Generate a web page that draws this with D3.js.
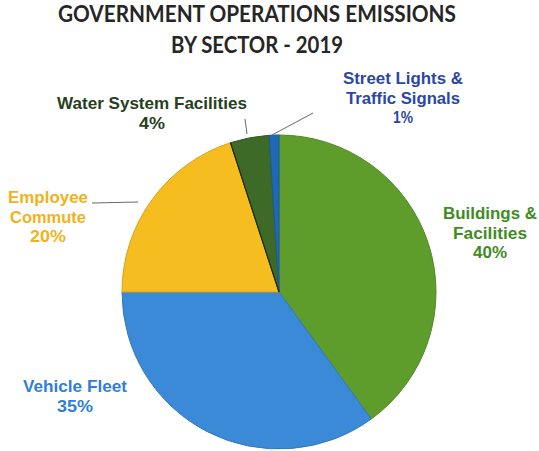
<!DOCTYPE html>
<html>
<head>
<meta charset="utf-8">
<script src="https://cdn.jsdelivr.net/npm/d3@7/dist/d3.min.js"></script>
<style>
  html, body { margin: 0; padding: 0; background: #fff; }
  svg { display: block; }
</style>
</head>
<body>
<div id="chart"></div>
<script>
// Government operations emissions by sector, 2019 (percent of total)
const sectors = ["Buildings & Facilities", "Vehicle Fleet", "Employee Commute", "Water System Facilities", "Street Lights & Traffic Signals"];
const shares = [40, 35, 20, 4, 1];
const titleLines = ["GOVERNMENT OPERATIONS EMISSIONS", "BY SECTOR - 2019"];

// Slice fills and label colours per sector
const sliceColors = ["#5e9c2c", "#3a8ad8", "#f5bd1f", "#3d6a27", "#1f68b4"];
const labelColors = ["#3f8c1f", "#2f7fd8", "#f2b21a", "#26401c", "#2a47a6"];

// Label text lines and placement per sector
const labelLayout = [
  { lines: ["Buildings &", "Facilities", "40%"], x: 490, y: 219, widths: [94, 74, 34] },
  { lines: ["Vehicle Fleet", "35%"], x: 75, y: 392, widths: [104, 36] },
  { lines: ["Employee", "Commute", "20%"], x: 48, y: 203, widths: [80, 76, 36] },
  { lines: ["Water System Facilities", "4%"], x: 152, y: 109, widths: [190, 26] },
  { lines: ["Street Lights &", "Traffic Signals", "1%"], x: 403, y: 84, widths: [120, 114, 20] }
];
const leaders = [
  null, null,
  [[92, 203], [138, 202]],
  [[245, 119], [247, 134]],
  [[313, 113], [272, 135]]
];

const W = 539, H = 451;
const cx = 279, cy = 292, r = 157;

const svg = d3.select("#chart").append("svg")
  .attr("width", W).attr("height", H);

// Title
svg.append("g").selectAll("text").data(titleLines).join("text")
  .attr("x", 257)
  .attr("y", (d, i) => 22 + i * 31)
  .attr("text-anchor", "middle")
  .attr("font-family", "Lato, 'Open Sans', sans-serif")
  .attr("font-weight", 700)
  .attr("font-size", 22)
  .attr("fill", "#262626")
  .attr("textLength", (d, i) => i === 0 ? 398 : 172)
  .attr("lengthAdjust", "spacingAndGlyphs")
  .text(d => d);

// Pie
const data = sectors.map((s, i) => ({ sector: s, value: shares[i], i }));
const pie = d3.pie().value(d => d.value).sort(null).startAngle(0).endAngle(2 * Math.PI);
const arc = d3.arc().innerRadius(0).outerRadius(r);

const g = svg.append("g").attr("transform", `translate(${cx},${cy})`);
g.selectAll("path").data(pie(data)).join("path")
  .attr("d", arc)
  .attr("fill", d => sliceColors[d.data.i])
  .attr("stroke", d => d3.color(sliceColors[d.data.i]).darker(0.4))
  .attr("stroke-width", 1)
  .attr("stroke-linejoin", "round");

// Dark seam between the commute and water system slices
const seam = pie(data)[3];
g.append("line")
  .attr("x1", 0).attr("y1", 0)
  .attr("x2", r * Math.sin(seam.startAngle))
  .attr("y2", -r * Math.cos(seam.startAngle))
  .attr("stroke", "#1f2a14")
  .attr("stroke-width", 1.2);

// Leader lines
svg.append("g").selectAll("path").data(leaders.filter(d => d)).join("path")
  .attr("d", d => d3.line()(d))
  .attr("fill", "none")
  .attr("stroke", "#6a6a6a")
  .attr("stroke-width", 1);

// Sector labels
const lg = svg.append("g")
  .attr("font-family", "'Liberation Sans', Arial, sans-serif")
  .attr("font-weight", 700)
  .attr("font-size", 17)
  .attr("text-anchor", "middle");

labelLayout.forEach((L, i) => {
  lg.append("g").selectAll("text").data(L.lines).join("text")
    .attr("x", L.x)
    .attr("y", (d, j) => L.y + j * 19.5)
    .attr("fill", labelColors[i])
    .attr("textLength", (d, j) => L.widths[j])
    .attr("lengthAdjust", "spacingAndGlyphs")
    .text(d => d);
});
</script>
</body>
</html>
